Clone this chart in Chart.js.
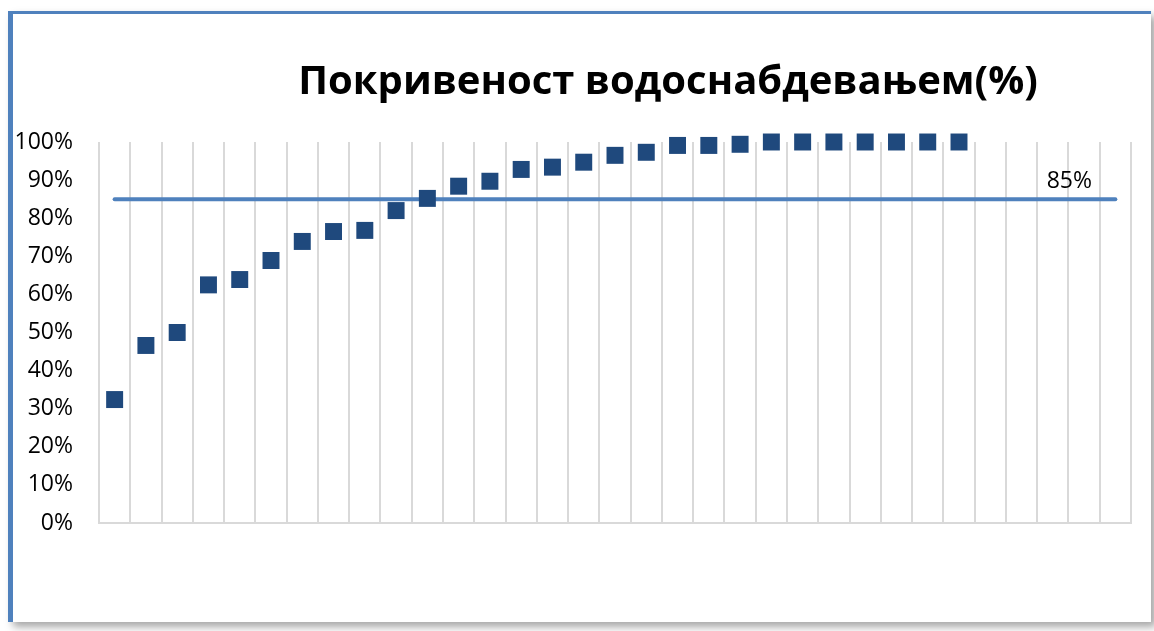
<!DOCTYPE html>
<html>
<head>
<meta charset="utf-8">
<script src="https://cdn.jsdelivr.net/npm/chart.js@4/dist/chart.umd.min.js"></script>
<style>
  html, body { margin: 0; padding: 0; background: #fff; }
  body { width: 1154px; height: 631px; position: relative; overflow: hidden; }
  #frame {
    position: absolute; left: 8px; top: 11px; width: 1138px; height: 608px;
    border-left: 5px solid #4F81BD; border-top: 3px solid #4F81BD;
    box-shadow: 5px 5px 8px rgba(0, 0, 0, 0.35);
    background: #fff;
  }
  #wrap { position: absolute; left: 0; top: 0; width: 1154px; height: 631px; }
</style>
</head>
<body>
<div id="frame"></div>
<div id="wrap"><canvas id="chart"></canvas></div>
<script>
  const chartTitle = "Покривеност водоснабдевањем(%)";
  const categories = ["1", "2", "3", "4", "5", "6", "7", "8", "9", "10", "11",
    "12", "13", "14", "15", "16", "17", "18", "19", "20", "21", "22",
    "23", "24", "25", "26", "27", "28", "29", "30", "31", "32", "33"];
  const coverage = [32.4, 46.6, 50.0, 62.5, 63.9, 68.9, 73.9, 76.5, 76.8, 82.0,
    85.2, 88.4, 89.7, 92.8, 93.4, 94.7, 96.5, 97.3, 99.1, 99.1,
    99.4, 100, 100, 100, 100, 100, 100, 100];
  const target = [85, 85, 85, 85, 85, 85, 85, 85, 85, 85, 85,
    85, 85, 85, 85, 85, 85, 85, 85, 85, 85, 85,
    85, 85, 85, 85, 85, 85, 85, 85, 85, 85, 85];
  const yTicks = [0, 10, 20, 30, 40, 50, 60, 70, 80, 90, 100];

  const font = "'Open Sans', 'Liberation Sans', sans-serif";

  // title sits right of the plot centre, as in the original, so draw it by hand
  const titlePlugin = {
    id: "titleText",
    afterDraw(chart) {
      const ctx = chart.ctx;
      ctx.save();
      ctx.font = "bold 40px " + font;
      ctx.fillStyle = "#000";
      ctx.textAlign = "center";
      ctx.textBaseline = "alphabetic";
      ctx.fillText(chartTitle, 668, 94);
      ctx.restore();
    },
  };

  // "85%" label above the end of the target line
  const targetLabel = {
    id: "targetLabel",
    afterDatasetsDraw(chart) {
      const meta = chart.getDatasetMeta(1);
      const last = meta.data[meta.data.length - 1];
      const ctx = chart.ctx;
      ctx.save();
      ctx.font = "23px " + font;
      ctx.fillStyle = "#000";
      ctx.textAlign = "center";
      ctx.textBaseline = "alphabetic";
      ctx.fillText(target[target.length - 1] + "%", last.x - 46, last.y - 11);
      ctx.restore();
    },
  };

  window.onload = () => {
    const ctx = document.getElementById("chart").getContext("2d");
    new Chart(ctx, {
      type: "line",
      data: {
        labels: categories,
        datasets: [
          {
            data: coverage,
            showLine: false,
            pointStyle: "rect",
            pointRadius: 12,
            pointHoverRadius: 12,
            pointBorderWidth: 0,
            backgroundColor: "#1F497D",
            borderColor: "#1F497D",
            clip: false,
          },
          {
            data: target,
            borderColor: "#4F81BD",
            borderWidth: 4,
            borderCapStyle: "round",
            pointRadius: 0,
            fill: false,
            tension: 0,
          },
        ],
      },
      options: {
        responsive: true,
        maintainAspectRatio: false,
        animation: false,
        layout: { padding: { top: 142, right: 23, bottom: 108, left: 0 } },
        plugins: {
          legend: { display: false },
          tooltip: { enabled: false },
        },
        scales: {
          x: {
            offset: true,
            grid: { offset: true, color: "#D9D9D9", lineWidth: 2, drawTicks: false },
            border: { color: "#D9D9D9", width: 2 },
            ticks: { display: false },
          },
          y: {
            min: 0,
            max: 100,
            afterBuildTicks(scale) {
              scale.ticks = yTicks.map((v) => ({ value: v }));
            },
            afterFit(scale) {
              scale.width = 99;
            },
            grid: { display: false, drawTicks: false },
            border: { display: false },
            ticks: {
              padding: 26,
              color: "#000",
              font: { family: font, size: 23 },
              callback: (v) => v + "%",
            },
          },
        },
      },
      plugins: [titlePlugin, targetLabel],
    });
  };
</script>
</body>
</html>
